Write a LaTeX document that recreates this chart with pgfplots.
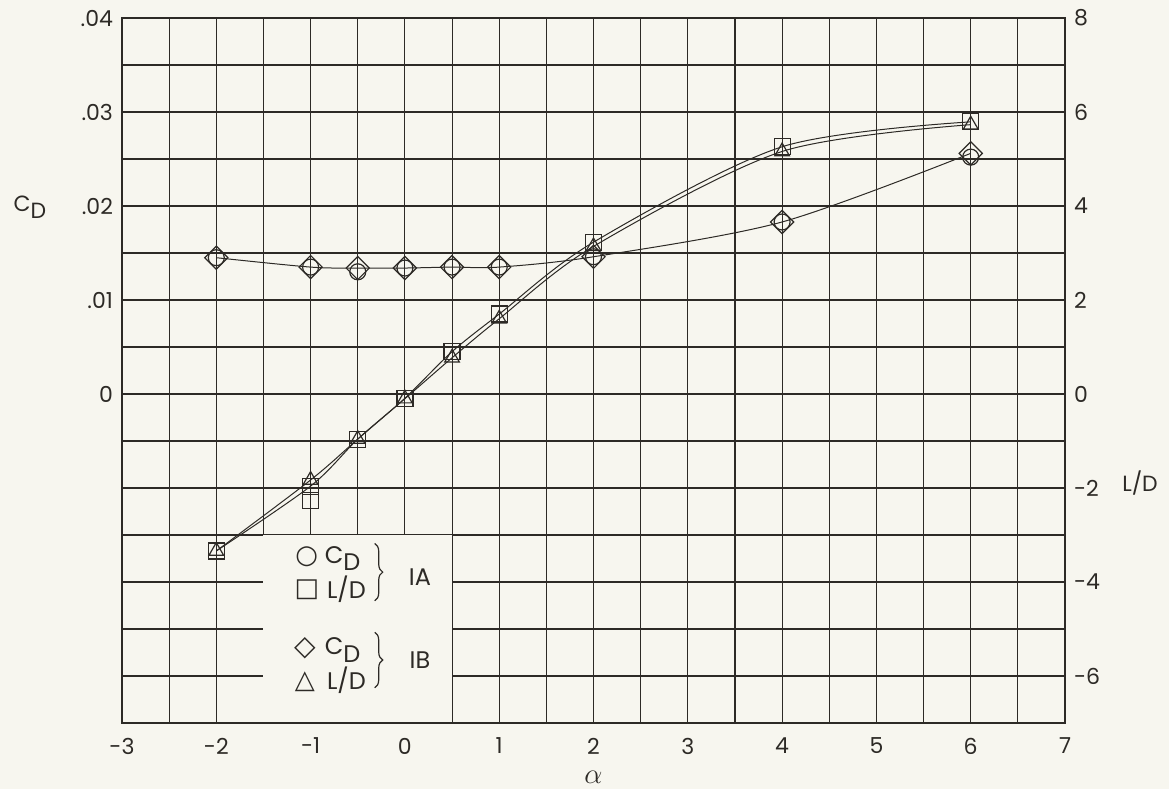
\documentclass[border=0pt]{standalone}
\usepackage{pgfplots}
\pgfplotsset{compat=1.18}
\usepackage{fontspec}
\setmainfont{Poppins}
\newfontfamily\symfont{DejaVu Sans}
\usetikzlibrary{decorations.pathreplacing}
\definecolor{paper}{RGB}{247,246,239}
\definecolor{ink}{RGB}{45,42,38}
\pagecolor{paper}

\pgfplotstableread{
a cd
-2 0.0145
-1 0.0135
-0.5 0.0134
0 0.0134
0.5 0.0135
1 0.0135
2 0.0146
4 0.0183
6 0.0256
}\cdIB
\pgfplotstableread{
a cd
-2 0.0145
-1 0.0135
-0.5 0.0130
0 0.0134
0.5 0.0135
1 0.0135
2 0.0146
4 0.0183
6 0.0252
}\cdIA
\pgfplotstableread{
a ld
-2 -3.34
-1 -1.96
-0.5 -0.96
0 -0.09
0.5 0.90
1 1.70
2 3.23
4 5.26
6 5.79
}\ldIA
\pgfplotstableread{
a ld
-2 -3.34
-1 -1.83
-0.5 -0.96
0 -0.10
0.5 0.77
1 1.60
2 3.14
4 5.16
6 5.73
}\ldIB

\begin{document}
\begin{tikzpicture}
\pgfplotsset{
  base/.style={
    scale only axis, width=471.5pt, height=352.5pt,
    xmin=-3, xmax=7,
    major tick length=0pt, minor tick length=0pt,
    tick label style={font=\fontsize{11}{13}\selectfont, text=ink},
    axis line style={draw=ink, line width=0.6pt},
    clip=false,
  }
}
\begin{axis}[base, name=ax,
  ymin=-0.035, ymax=0.04,
  xtick={-3,-2,-1,0,1,2,3,4,5,6,7},
  xticklabels={-3,-2,-1,0,1,2,3,4,5,6,7},
  minor xtick={-2.5,-1.5,-0.5,0.5,1.5,2.5,3.5,4.5,5.5,6.5},
  ytick={-0.035,-0.03,-0.025,-0.02,-0.015,-0.01,-0.005,0,0.005,0.01,0.015,0.02,0.025,0.03,0.035,0.04},
  yticklabels={,,,,,,,0,,.01,,.02,,.03,,.04},
  xticklabel style={yshift=-4pt},
  yticklabel style={xshift=-1pt},
  grid=both,
  major grid style={draw=ink, line width=0.55pt},
  minor grid style={draw=ink, line width=0.55pt},
]
\addplot[draw=none, mark=o, mark size=4pt,
  mark options={draw=ink, fill=none, line width=0.6pt}] table[x=a,y=cd] {\cdIA};
\addplot[draw=ink, line width=0.5pt, smooth, mark=square, mark size=4.1pt,
  mark options={solid, rotate=45, fill=none, line width=0.6pt}] table[x=a,y=cd] {\cdIB};
\node[font=\fontsize{11}{13}\selectfont, text=ink] at (rel axis cs:0,0.732) [xshift=-46pt] {C\raisebox{-0.55ex}{D}};
\node[text=ink, font=\Large] at (rel axis cs:0.5,0) [yshift=-27pt] {$\alpha$};
\end{axis}
\begin{axis}[base,
  ymin=-7, ymax=8,
  axis y line*=right, axis x line=none,
  ytick={-6,-4,-2,0,2,4,6,8},
  yticklabels={-6,-4,-2,0,2,4,6,8},
  yticklabel style={xshift=1pt},
]
\fill[paper] (axis cs:-1.5,-7) rectangle (axis cs:0.5,-3);
\draw[ink, line width=0.6pt] (axis cs:-1.6,-7) -- (axis cs:0.6,-7);
\addplot[draw=ink, line width=0.5pt, smooth, mark=square, mark size=4pt,
  mark options={solid, fill=none, line width=0.6pt}] table[x=a,y=ld] {\ldIA};
\addplot[draw=none, mark=square, mark size=4pt,
  mark options={draw=ink, fill=none, line width=0.6pt}] coordinates {(-1,-2.26)};
\addplot[draw=ink, line width=0.5pt, smooth, mark=triangle, mark size=4.2pt,
  mark options={solid, fill=none, line width=0.6pt}] table[x=a,y=ld] {\ldIB};
% legend
\begin{scope}[every node/.style={text=ink, font=\fontsize{12}{14}\selectfont}]
\node at (axis cs:-1.04,-3.47) {\symfont\fontsize{13}{13}\selectfont ○};
\node at (axis cs:-1.04,-4.17) {\symfont\fontsize{13}{13}\selectfont □};
\node at (axis cs:-0.66,-3.50) {C\raisebox{-0.55ex}{D}};
\node at (axis cs:-0.62,-4.15) {L/D};
\draw[ink, line width=0.6pt, decorate, decoration={brace, amplitude=4pt}] (axis cs:-0.32,-3.18) -- (axis cs:-0.32,-4.40);
\node at (axis cs:0.16,-3.90) {IA};
\node at (axis cs:-1.06,-5.40) {\symfont\fontsize{14}{14}\selectfont ◇};
\node at (axis cs:-1.06,-6.13) {\symfont\fontsize{13}{13}\selectfont △};
\node at (axis cs:-0.66,-5.45) {C\raisebox{-0.55ex}{D}};
\node at (axis cs:-0.62,-6.10) {L/D};
\draw[ink, line width=0.6pt, decorate, decoration={brace, amplitude=4pt}] (axis cs:-0.32,-5.07) -- (axis cs:-0.32,-6.25);
\node at (axis cs:0.16,-5.66) {IB};
\end{scope}
\node[font=\fontsize{11}{13}\selectfont, text=ink] at (rel axis cs:1,0.34) [xshift=37.5pt] {L/D};
\end{axis}
\pgfresetboundingbox
\path[use as bounding box] ([xshift=-61pt,yshift=-33pt]ax.south west) rectangle ([xshift=52pt,yshift=9pt]ax.north east);
\end{tikzpicture}
\end{document}
